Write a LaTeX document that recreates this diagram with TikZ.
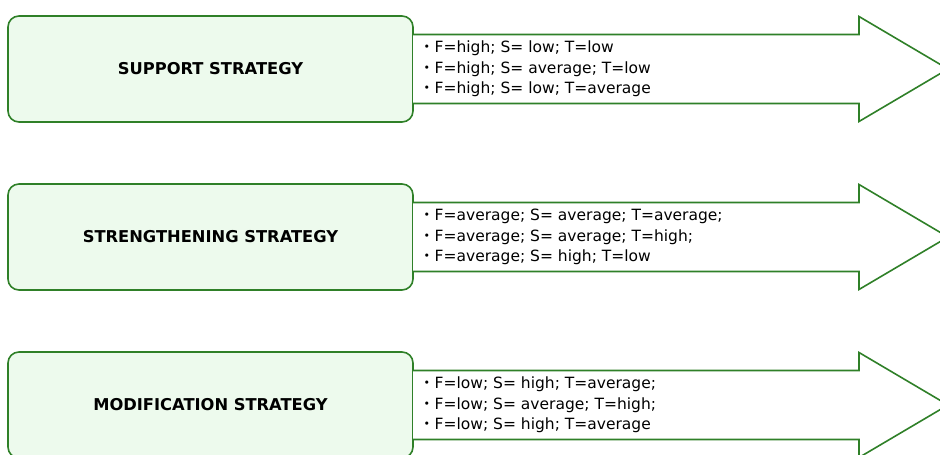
\documentclass[tikz,border=0pt]{standalone}
\usepackage{fontspec}
\setmainfont{DejaVu Sans}
\newfontfamily\cjk{Noto Sans CJK JP}
\usetikzlibrary{positioning}

\definecolor{stratgreen}{RGB}{47,128,40}
\definecolor{stratfill}{RGB}{237,250,237}

\begin{document}
\begin{tikzpicture}[x=1pt, y=1pt, node distance=6pt,
  strat/.style={draw=stratgreen, fill=stratfill, line width=1.6pt, rounded corners=11pt, outer sep=0pt,
    minimum width=405pt, minimum height=106pt, font=\fontsize{16.3}{18}\selectfont\bfseries},
  cond/.style={inner sep=0pt, align=left, font=\fontsize{15.5}{20.5}\selectfont},
  arrowline/.style={draw=stratgreen, line width=1.6pt, fill=white}]
\clip (0,0) rectangle (940,455);
\node[strat] (sup) at (210.5,386) {SUPPORT STRATEGY};
\node[strat] (str) at (210.5,218) {STRENGTHENING STRATEGY};
\node[strat] (mod) at (210.5,50) {MODIFICATION STRATEGY};
% open-ended block arrows leaving each box
\draw[arrowline] ([yshift=34.5pt]sup.east) -- ++(446,0) -- ++(0,18) -- ++(89,-52.5) -- ++(-89,-52.5) -- ++(0,18) -- ++(-446,0);
\draw[arrowline] ([yshift=34.5pt]str.east) -- ++(446,0) -- ++(0,18) -- ++(89,-52.5) -- ++(-89,-52.5) -- ++(0,18) -- ++(-446,0);
\draw[arrowline] ([yshift=34.5pt]mod.east) -- ++(446,0) -- ++(0,18) -- ++(89,-52.5) -- ++(-89,-52.5) -- ++(0,18) -- ++(-446,0);
\node[cond, right=of sup] (supc) {{\cjk ・}F=high; S= low; T=low\\{\cjk ・}F=high; S= average; T=low\\{\cjk ・}F=high; S= low; T=average};
\node[cond, right=of str] (strc) {{\cjk ・}F=average; S= average; T=average;\\{\cjk ・}F=average; S= average; T=high;\\{\cjk ・}F=average; S= high; T=low};
\node[cond, right=of mod] (modc) {{\cjk ・}F=low; S= high; T=average;\\{\cjk ・}F=low; S= average; T=high;\\{\cjk ・}F=low; S= high; T=average};
\end{tikzpicture}
\end{document}
